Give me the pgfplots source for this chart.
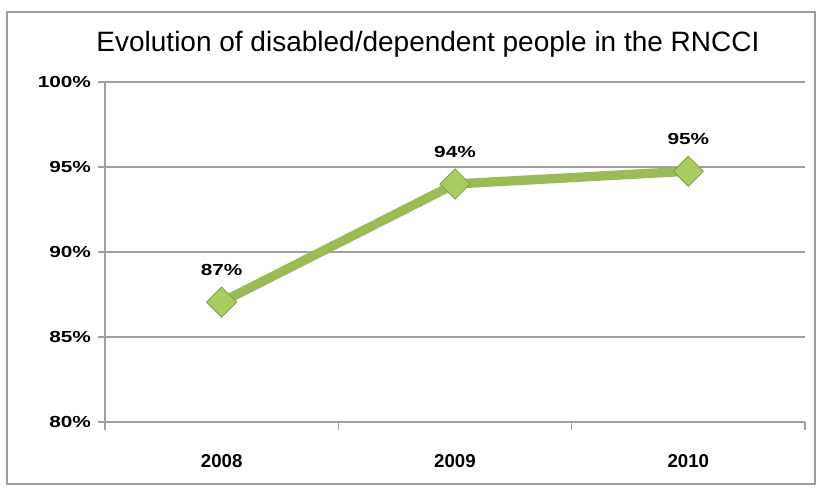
\documentclass[border=0pt]{standalone}
\usepackage{pgfplots}
\pgfplotsset{compat=1.18}
\usepackage{fontspec}
\setmainfont{Liberation Sans}
\definecolor{lgreen}{HTML}{9BBB59}
\definecolor{mgreen}{HTML}{A9CB62}
\definecolor{dgreen}{HTML}{7F9C42}
\definecolor{gridc}{HTML}{A0A0A0}
\begin{document}
\begin{tikzpicture}[x=0.75pt,y=0.75pt]
\path[use as bounding box] (0,0) rectangle (819,491);
\draw[color=black!38, line width=1.5pt] (7,7) rectangle (815,479);
\node[font=\fontsize{21}{25}\selectfont] at (428,447) {Evolution of disabled/dependent people in the RNCCI};
\begin{axis}[
  at={(78.75pt,51.75pt)}, anchor=south west,
  width=525pt, height=255pt, scale only axis,
  xmin=-0.5, xmax=2.5, ymin=80, ymax=100,
  axis x line*=bottom, axis y line*=left,
  axis line style={gridc, line width=1.2pt},
  xtick={0,1,2}, xticklabels={2008,2009,2010},
  minor xtick={-0.5,0.5,1.5,2.5},
  major x tick style={draw=none},
  minor tick length=6pt,
  tick align=outside,
  ytick={80,85,90,95,100},
  major tick length=5pt,
  tick style={gridc, line width=1.2pt},
  ymajorgrids, grid style={gridc, line width=1.2pt},
  /pgf/number format/assume math mode=true,
  yticklabel={\scalebox{1.3}[1]{\pgfmathprintnumber{\tick}\%}},
  yticklabel style={font=\bfseries\fontsize{12}{14}\selectfont, xshift=-2pt},
  xticklabel style={font=\bfseries\fontsize{14}{16}\selectfont, yshift=-16pt},
  clip=false,
  nodes near coords,
  point meta=explicit symbolic,
  every node near coord/.append style={font=\bfseries\fontsize{12}{14}\selectfont, text=black, yshift=16pt},
]
\addplot[color=lgreen, line width=7pt, mark=square*, mark size=8pt,
  mark options={rotate=45, fill=mgreen, draw=dgreen, line width=0.6pt}]
  table[meta=label] {
x y label
0 87.05 {\scalebox{1.3}[1]{87\%}}
1 94.0 {\scalebox{1.3}[1]{94\%}}
2 94.75 {\scalebox{1.3}[1]{95\%}}
};
\end{axis}
\end{tikzpicture}
\end{document}
